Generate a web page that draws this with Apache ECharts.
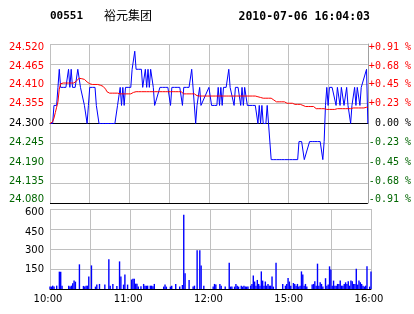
<!DOCTYPE html>
<html><head><meta charset="utf-8">
<script src="https://cdn.jsdelivr.net/npm/echarts@6/dist/echarts.min.js"></script>
<style>html,body{margin:0;padding:0;background:#fff}#c{width:414px;height:314px}</style>
</head><body><div id="c"></div>
<script>
const stockCode = '00551';
const stockName = '裕元集团';
const stampText = '2010-07-06 16:04:03';
const priceTicks = ['24.520','24.465','24.410','24.355','24.300','24.245','24.190','24.135','24.080'];
const pctTicks = ['+0.91 %','+0.68 %','+0.45 %','+0.23 %',' 0.00 %','-0.23 %','-0.45 %','-0.68 %','-0.91 %'];
const volTicks = ['0','150','300','450','600'];
const timeLabels = ['10:00','11:00','12:00','15:00','16:00'];
const priceMin = 24.08, priceMax = 24.52;
const volMax = 600;

const price = [
24.30,24.30,24.30,24.35,24.35,24.35,24.40,24.45,24.40,24.40,
24.40,24.40,24.40,24.40,24.45,24.40,24.45,24.40,24.40,24.40,
24.40,24.45,24.45,24.40,24.40,null,24.35,null,24.30,24.35,
24.40,24.40,24.40,24.40,24.40,24.35,null,24.30,24.30,24.30,
24.30,24.30,24.30,24.30,24.30,24.30,24.30,24.30,24.30,24.30,
24.30,24.35,null,24.40,24.35,24.40,24.35,24.40,24.40,24.40,
24.40,24.40,24.45,null,24.50,24.45,24.45,24.45,24.45,24.45,
24.40,24.40,24.45,24.40,24.45,24.40,24.45,24.45,24.40,24.35,
null,null,null,24.40,24.40,24.40,24.40,24.40,24.40,24.40,
24.40,24.35,24.40,24.40,24.40,24.40,24.40,24.40,24.40,24.40,
24.35,24.40,24.40,24.40,24.40,24.40,null,24.45,null,null,
24.30,24.35,null,24.40,24.35,24.35,null,null,null,null,
24.40,24.40,24.35,24.35,24.35,24.35,24.35,24.40,24.35,24.40,
24.35,24.40,24.40,24.40,24.40,24.45,24.40,24.40,null,24.35,
24.40,24.40,24.40,24.40,24.35,24.40,24.35,24.40,24.40,24.35,
24.35,24.35,24.35,24.35,24.35,24.35,null,24.30,24.35,24.30,
24.35,24.30,24.30,24.30,24.35,24.30,24.30,24.20,24.20,24.20,
24.20,24.20,24.20,24.20,24.20,24.20,24.20,24.20,24.20,24.20,
24.20,24.20,24.20,24.20,24.20,24.20,24.20,24.20,24.25,24.25,
24.25,null,24.20,null,null,null,24.25,24.25,24.25,24.25,
24.25,24.25,24.25,24.25,24.25,null,24.20,24.25,24.35,24.40,
24.35,24.40,24.40,24.40,24.40,null,24.35,24.40,24.40,24.35,
24.40,24.40,24.35,null,24.40,24.35,24.35,24.30,24.35,24.35,
24.40,24.35,24.40,24.40,24.35,24.40,24.40,null,null,24.45,
24.30
];

const avgPrice = [
24.300,24.300,24.305,24.315,24.330,24.345,24.360,24.395,24.410,24.412,
24.412,24.412,24.412,24.412,24.412,24.412,24.412,24.412,24.412,24.412,
24.418,24.423,24.425,24.425,24.424,24.423,24.422,24.420,24.415,24.412,
24.410,24.408,24.408,24.408,24.408,24.408,24.408,24.408,24.406,24.404,
24.403,24.400,24.395,24.388,24.384,24.384,24.384,24.384,24.384,24.384,
24.384,24.384,24.382,24.382,24.382,24.382,24.382,24.382,24.382,24.382,
24.382,24.382,24.384,24.386,24.388,24.388,24.388,24.388,24.388,24.388,
24.388,24.388,24.388,24.388,24.388,24.388,24.388,24.388,24.388,24.388,
24.388,24.388,24.388,24.388,24.388,24.388,24.388,24.388,24.388,24.388,
24.388,24.388,24.388,24.388,24.388,24.388,24.388,24.388,24.388,24.388,
24.385,24.382,24.382,24.382,24.382,24.382,24.382,24.382,24.382,24.382,
24.379,24.377,24.376,24.376,24.376,24.376,24.376,24.376,24.376,24.376,
24.376,24.376,24.376,24.376,24.376,24.376,24.376,24.376,24.376,24.376,
24.376,24.376,24.376,24.376,24.376,24.376,24.376,24.376,24.376,24.376,
24.376,24.376,24.376,24.376,24.376,24.376,24.376,24.376,24.376,24.376,
24.376,24.376,24.376,24.376,24.376,24.376,24.374,24.374,24.374,24.372,
24.372,24.370,24.370,24.370,24.370,24.370,24.370,24.370,24.365,24.365,
24.360,24.360,24.360,24.360,24.360,24.360,24.360,24.360,24.356,24.356,
24.356,24.356,24.356,24.356,24.353,24.353,24.353,24.353,24.353,24.353,
24.353,24.350,24.347,24.347,24.347,24.347,24.347,24.347,24.347,24.347,
24.347,24.341,24.341,24.341,24.341,24.341,24.341,24.341,24.339,24.339,
24.339,24.339,24.339,24.339,24.339,24.339,24.339,24.341,24.341,24.341,
24.341,24.341,24.341,24.341,24.341,24.341,24.341,24.341,24.343,24.343,
24.343,24.343,24.343,24.343,24.343,24.343,24.343,24.343,24.345,24.345,
24.345
];

const volume = [
18,18,25,18,0,25,0,130,130,25,
0,0,0,0,25,18,25,43,63,55,
0,0,185,0,0,23,18,25,25,94,
0,177,0,0,18,33,0,38,0,0,
0,33,0,0,223,25,0,38,0,0,
23,0,207,94,0,33,109,0,33,0,
0,71,76,76,40,40,18,0,20,0,
38,25,25,25,0,25,25,20,38,0,
0,0,0,0,0,18,33,18,0,0,
18,25,0,0,38,0,0,18,0,30,
557,119,0,0,68,0,0,18,25,0,
291,0,291,177,0,25,0,0,0,0,
0,0,18,38,33,0,0,38,25,0,
0,18,0,0,197,18,18,0,18,38,
25,18,0,25,18,25,18,18,18,0,
25,38,101,56,25,68,38,25,132,63,
25,56,25,38,25,25,94,18,0,197,
0,0,0,0,38,0,25,38,83,56,
25,0,45,38,25,38,18,25,132,109,
25,38,18,0,0,0,33,38,58,25,
190,25,50,38,18,0,81,25,33,170,
147,25,63,25,25,38,38,63,25,25,
38,50,38,58,25,63,58,38,38,152,
33,63,50,38,25,18,25,170,0,18,
132
];

// trading minutes: 10:00-12:30 and 14:31-16:00
const sessions = [[600, 750], [871, 960]];
const minutes = [];
sessions.forEach(function (s) {
  for (let m = s[0]; m <= s[1]; m++) {
    minutes.push(String(Math.floor(m / 60)).padStart(2, '0') + ':' + String(m % 60).padStart(2, '0'));
  }
});

const gray = '#c0c0c0';
const green = '#006600';
const labelOffsets = [3.4, 2.5, 0.5, -0.5, 0, -0.5, -1.3, -2, -3.8];
const volOffsets = [0, 0.7, 1, 3, 3.5];
function sideColor(i) { return i < 4 ? '#ff0000' : (i === 4 ? '#000000' : green); }
function offsetRich(offsets, colorOf, family) {
  const r = {};
  offsets.forEach(function (o, i) {
    r['t' + i] = { color: colorOf(i), fontFamily: family, fontSize: 10,
      padding: [o > 0 ? 2 * o : 0, 0, o < 0 ? -2 * o : 0, 0] };
  });
  return r;
}

const chart = echarts.init(document.getElementById('c'), null, { renderer: 'canvas', width: 414, height: 314 });
const option = {
  animation: false,
  backgroundColor: '#ffffff',
  textStyle: { fontFamily: 'DejaVu Sans' },
  title: [
    { text: stockCode, left: 50, top: 11, padding: 0,
      textStyle: { fontFamily: 'DejaVu Sans Mono', fontWeight: 'bold', fontSize: 11, lineHeight: 11, color: '#000' } },
    { text: stockName, left: 104, top: 9, padding: 0,
      textStyle: { fontFamily: 'Noto Sans CJK SC', fontWeight: 'normal', fontSize: 12, lineHeight: 12, color: '#000' } },
    { text: stampText, right: 44, top: 11, padding: 0,
      textStyle: { fontFamily: 'DejaVu Sans Mono', fontWeight: 'bold', fontSize: 11.5, lineHeight: 11.5, color: '#000' } }
  ],
  grid: [
    { left: 50, top: 44, width: 321, height: 159 },
    { left: 50, top: 209, width: 321, height: 80 }
  ],
  xAxis: [
    { type: 'category', gridIndex: 0, data: minutes, boundaryGap: false,
      axisLine: { lineStyle: { color: '#000', width: 1 } }, axisTick: { show: false }, axisLabel: { show: false },
      splitLine: { show: true, interval: 29, lineStyle: { color: gray, width: 1 } } },
    { type: 'category', gridIndex: 1, data: minutes, boundaryGap: false,
      axisLine: { lineStyle: { color: '#000', width: 1 } }, axisTick: { show: false },
      axisLabel: { interval: function (i, v) { return timeLabels.indexOf(v) >= 0; },
        margin: 5, color: '#000', fontSize: 10, fontFamily: 'DejaVu Sans', padding: [0, 4, 0, 0] },
      splitLine: { show: true, interval: 29, lineStyle: { color: gray, width: 1 } } }
  ],
  yAxis: [
    { type: 'value', gridIndex: 0, min: priceMin, max: priceMax, show: false },
    { type: 'value', gridIndex: 0, position: 'left', min: -4, max: 4, interval: 1,
      axisLine: { show: false }, axisTick: { show: false },
      splitLine: { show: true, lineStyle: { width: 1, color: ['#000', gray, gray, gray, '#000', gray, gray, gray, gray] } },
      axisLabel: { margin: 6, formatter: function (v) { const i = Math.round(4 - v); return '{t' + i + '|' + priceTicks[i] + '}'; },
        rich: offsetRich(labelOffsets, sideColor, 'DejaVu Sans') } },
    { type: 'value', gridIndex: 0, position: 'right', min: -4, max: 4, interval: 1,
      axisLine: { show: true, lineStyle: { color: '#a0a0a0', width: 1 } }, axisTick: { show: false },
      splitLine: { show: false },
      axisLabel: { margin: 1, align: 'left', formatter: function (v) { const i = Math.round(4 - v); return '{t' + i + '|' + pctTicks[i] + '}'; },
        rich: offsetRich(labelOffsets, sideColor, 'DejaVu Sans Mono') } },
    { type: 'value', gridIndex: 1, min: 0, max: volMax, interval: 150,
      axisLine: { show: false }, axisTick: { show: false },
      splitLine: { show: true, lineStyle: { color: gray, width: 1 } },
      axisLabel: { margin: 6, formatter: function (v) { const i = Math.round(v / 150); return i === 0 ? '' : '{t' + i + '|' + volTicks[i] + '}'; },
        rich: offsetRich(volOffsets, function () { return '#000'; }, 'DejaVu Sans') } }
  ],
  series: [
    { type: 'bar', xAxisIndex: 1, yAxisIndex: 3, data: volume, barWidth: 1.4, silent: true,
      itemStyle: { color: '#0000ff' } },
    { type: 'line', xAxisIndex: 0, yAxisIndex: 0, data: price, connectNulls: true, symbol: 'none', showSymbol: false, silent: true,
      lineStyle: { color: '#0000ff', width: 1 } },
    { type: 'line', xAxisIndex: 0, yAxisIndex: 0, data: avgPrice, symbol: 'none', showSymbol: false, silent: true,
      lineStyle: { color: '#ff0000', width: 1 } }
  ]
};
chart.setOption(option);
</script>
</body></html>
